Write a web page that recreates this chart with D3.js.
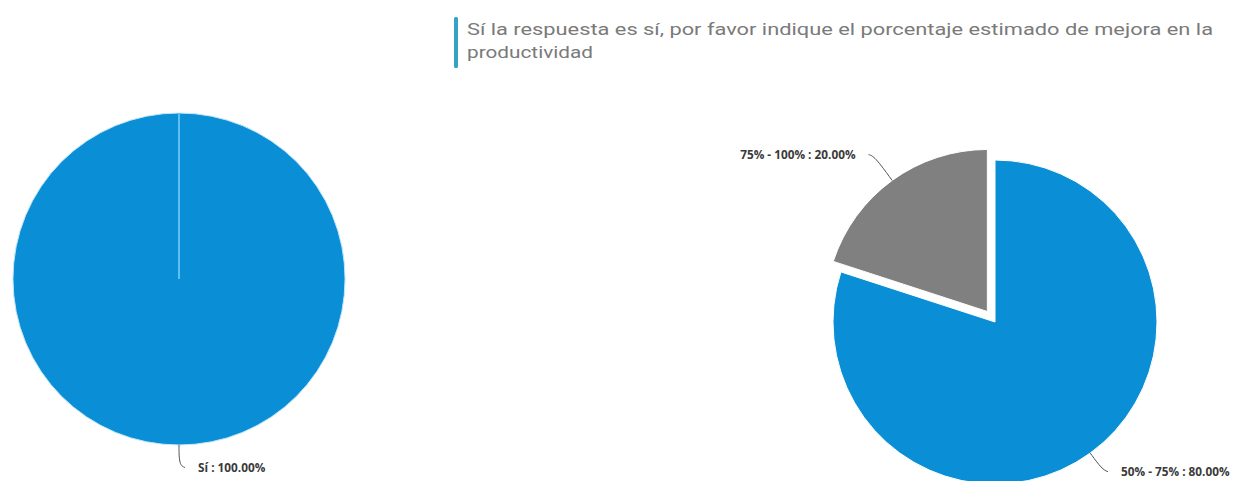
<!DOCTYPE html>
<html><head><meta charset="utf-8">
<script src="https://cdn.jsdelivr.net/npm/d3@7"></script>
<style>html,body{margin:0;padding:0;background:#fff;}svg{display:block;}</style>
</head><body>
<svg id="chart" width="1233" height="481"></svg>
<script>
const titleLines = ["Sí la respuesta es sí, por favor indique el porcentaje estimado de mejora en la", "productividad"];
const leftCategories = ["Sí"];
const leftValues = [100];
const rightCategories = ["50% - 75%", "75% - 100%"];
const rightValues = [80, 20];
const rightColors = ["#0a8fd6", "#808080"];
const leftColors = ["#0a8fd6"];

const svg = d3.select("#chart");

// Title
svg.append("rect").attr("x", 454).attr("y", 17).attr("width", 4).attr("height", 51).attr("rx", 1.5).attr("fill", "#35a3c6");
const tt = svg.append("text").attr("font-family", "Roboto, 'Open Sans', sans-serif").attr("font-size", 16.5).attr("fill", "#7a7a7a");
tt.append("tspan").attr("x", 467).attr("y", 35).text(titleLines[0]).attr("textLength", 746).attr("lengthAdjust", "spacingAndGlyphs");
tt.append("tspan").attr("x", 467).attr("y", 58).text(titleLines[1]).attr("textLength", 126).attr("lengthAdjust", "spacingAndGlyphs");

function drawPie(cfg) {
  const pie = d3.pie().sort(null).value(d => d.v);
  const data = pie(cfg.cats.map((c, i) => ({c, v: cfg.vals[i], color: cfg.colors[i], explode: cfg.explode[i], gap: cfg.labelGap[i]})));
  const arc = d3.arc().innerRadius(0).outerRadius(cfg.r);
  const g = svg.append("g").attr("transform", `translate(${cfg.cx},${cfg.cy})`);
  const fmt = d3.format(".2f");
  const total = d3.sum(cfg.vals);
  data.forEach(d => {
    const mid = (d.startAngle + d.endAngle) / 2;
    const ux = Math.sin(mid), uy = -Math.cos(mid);
    const off = d.data.explode;
    const sg = g.append("g").attr("transform", `translate(${ux*off},${uy*off})`);
    sg.append("path").attr("d", arc(d)).attr("fill", d.data.color)
      .attr("stroke", cfg.stroke).attr("stroke-width", cfg.strokeW).attr("stroke-linejoin", "round");
    if (cfg.full) {
      sg.append("line").attr("x1", 0).attr("y1", -cfg.r).attr("x2", 0).attr("y2", 0)
        .attr("stroke", "#5cc0f2").attr("stroke-width", 2);
    }
    // label line
    const p0 = [ux*cfg.r, uy*cfg.r];
    const lr = cfg.r + d.data.gap;
    const p1 = [ux*lr, uy*lr];
    const right = ux >= -1e-6;
    const p2 = [p1[0] + (right ? 6 : -6), p1[1] + (uy > 0 ? 2.5 : -1.5)];
    const line = d3.line().curve(d3.curveBasis);
    sg.append("path").attr("d", line([p0, p1, p2])).attr("fill", "none").attr("stroke", "#555").attr("stroke-width", 1);
    sg.append("text").attr("x", p2[0] + (right ? 13 : -13)).attr("y", p2[1] + 4)
      .attr("text-anchor", right ? "start" : "end")
      .attr("font-family", "'Open Sans', 'DejaVu Sans', sans-serif").attr("font-size", 11.8).attr("font-weight", "bold")
      .attr("fill", "#3a3a3a")
      .text(`${d.data.c} : ${fmt(d.data.v / total * 100)}%`);
  });
}

drawPie({cats: leftCategories, vals: leftValues, colors: leftColors, explode: [0], labelGap: [20], cx: 179, cy: 279, r: 166, full: true, stroke: "#bfe6fa", strokeW: 1});
drawPie({cats: rightCategories, vals: rightValues, colors: rightColors, explode: [0, 13], labelGap: [20, 30], cx: 995, cy: 322, r: 162, full: false, stroke: "#ffffff", strokeW: 1});
</script>
</body></html>
